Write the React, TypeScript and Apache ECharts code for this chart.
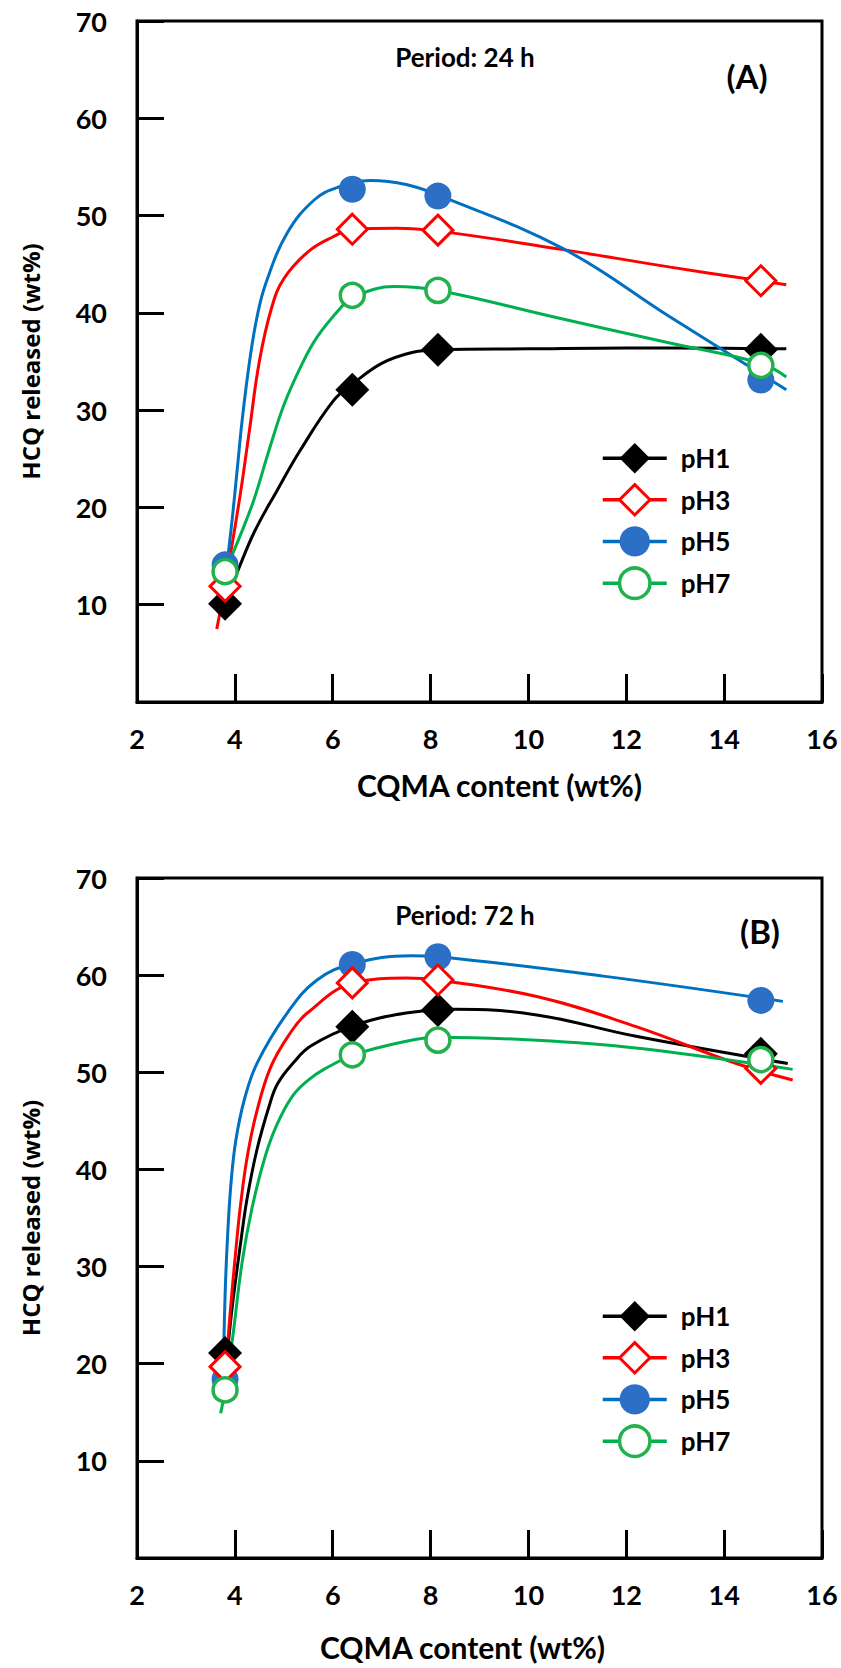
import React, { useEffect, useRef } from 'react';
import * as echarts from 'echarts';

// ---------- data ----------
const seriesNames = ['pH1', 'pH3', 'pH5', 'pH7'];
const cqmaContent = [3.8, 6.4, 8.15, 14.75];
const periodLabels = ['Period: 24 h', 'Period: 72 h'];
const panelLabels = ['(A)', '(B)'];
const xAxisTitle = 'CQMA content (wt%)';
const yAxisTitle = 'HCQ released (wt%)';

// Panel A: 24 h
const ph1_24h = [10.1, 32.1, 36.2, 36.2];
const ph3_24h = [11.9, 48.6, 48.5, 43.3];
const ph5_24h = [14.1, 52.7, 52.0, 33.1];
const ph7_24h = [13.4, 41.8, 42.3, 34.6];

// Panel B: 72 h
const ph1_72h = [21.1, 54.7, 56.4, 51.9];
const ph3_72h = [19.7, 59.2, 59.5, 50.4];
const ph5_72h = [18.4, 61.1, 61.9, 57.4];
const ph7_72h = [17.3, 51.8, 53.3, 51.3];

// Fitted trend curves [x, y]
const fit_ph1_24h = [[3.85, 11.0], [4.02, 13.0], [4.4, 17.5], [4.87, 21.8], [5.34, 25.9], [6.02, 31.0], [6.41, 32.7], [7.0, 34.8], [7.6, 35.9], [8.16, 36.2], [10.0, 36.3], [12.0, 36.4], [14.0, 36.35], [15.27, 36.3]];
const fit_ph3_24h = [[3.63, 7.5], [3.8, 12.0], [4.1, 21.0], [4.3, 28.0], [4.5, 35.0], [4.75, 40.5], [5.0, 43.5], [5.5, 46.3], [6.0, 47.8], [6.41, 48.6], [7.3, 48.7], [8.16, 48.4], [10.71, 46.5], [12.9, 44.7], [15.27, 42.9]];
const fit_ph5_24h = [[3.85, 14.6], [3.95, 19.0], [4.05, 24.0], [4.15, 29.0], [4.3, 35.0], [4.45, 39.5], [4.63, 43.0], [5.07, 48.2], [5.62, 51.6], [6.1, 52.9], [6.77, 53.6], [7.5, 53.2], [8.16, 52.1], [10.71, 46.6], [12.89, 39.6], [15.27, 32.1]];
const fit_ph7_24h = [[3.8, 13.4], [4.1, 17.0], [4.39, 20.8], [4.7, 25.9], [5.0, 30.5], [5.35, 34.5], [5.68, 37.5], [6.16, 40.5], [6.41, 41.6], [7.25, 42.7], [8.16, 42.3], [10.5, 39.6], [12.89, 36.9], [14.76, 34.8], [15.27, 33.4]];

const fit_ph1_72h = [[3.85, 21.2], [3.95, 26.0], [4.12, 32.5], [4.25, 37.0], [4.45, 42.0], [4.7, 46.5], [4.87, 48.8], [5.2, 51.0], [5.55, 52.7], [6.43, 54.8], [7.5, 56.1], [8.5, 56.5], [10.17, 55.9], [12.2, 53.7], [15.3, 50.9]];
const fit_ph3_72h = [[3.82, 19.7], [3.9, 25.0], [4.02, 31.7], [4.12, 36.5], [4.26, 41.5], [4.45, 46.0], [4.73, 50.5], [5.1, 53.8], [5.48, 56.1], [6.43, 59.2], [7.5, 59.7], [8.13, 59.5], [10.17, 57.8], [12.2, 54.7], [14.25, 50.9], [15.4, 49.2]];
const fit_ph5_72h = [[3.76, 18.5], [3.8, 27.0], [3.85, 33.0], [3.92, 38.5], [4.02, 43.0], [4.2, 47.3], [4.46, 51.0], [5.07, 56.1], [5.68, 59.5], [6.43, 61.2], [7.59, 62.0], [8.13, 61.9], [11.53, 59.9], [15.2, 57.3]];
const fit_ph7_72h = [[3.71, 14.9], [3.8, 17.3], [3.95, 22.5], [4.15, 30.5], [4.35, 36.0], [4.6, 41.0], [4.85, 44.5], [5.17, 47.5], [5.5, 49.2], [5.82, 50.3], [6.43, 51.8], [7.5, 53.2], [8.13, 53.6], [10.17, 53.3], [12.2, 52.5], [15.4, 50.3]];

const panels = [
  { values: [ph1_24h, ph3_24h, ph5_24h, ph7_24h], fits: [fit_ph1_24h, fit_ph3_24h, fit_ph5_24h, fit_ph7_24h] },
  { values: [ph1_72h, ph3_72h, ph5_72h, ph7_72h], fits: [fit_ph1_72h, fit_ph3_72h, fit_ph5_72h, fit_ph7_72h] },
];

// ---------- styles ----------
const LOOKS = [
  { symbol: 'diamond', size: 34, fill: '#000000', border: '#000000', bw: 0, line: '#000000' },
  { symbol: 'diamond', size: 30, fill: '#ffffff', border: '#ff0000', bw: 3, line: '#ff0000' },
  { symbol: 'circle', size: 27, fill: '#2b6fc7', border: '#2b6fc7', bw: 0, line: '#0070c0' },
  { symbol: 'circle', size: 24, fill: '#ffffff', border: '#22b14c', bw: 3.5, line: '#00b050' },
];
const MARKER_ORDER = [0, 2, 1, 3];

const GRIDS = [
  { left: 137, top: 21, width: 685, height: 681 },
  { left: 137, top: 878, width: 685, height: 680 },
];

const TICK_FONT = { fontFamily: 'Lato', fontWeight: 'bold' as const, fontSize: 27, color: '#000' };

function textEl(x: number, y: number, text: string, size: number) {
  return {
    type: 'text',
    x,
    y,
    style: {
      text,
      align: 'center',
      verticalAlign: 'middle',
      textAlign: 'center',
      textVerticalAlign: 'middle',
      fontFamily: 'Lato',
      fontWeight: 'bold',
      fontSize: size,
      fill: '#000',
    },
  };
}

function buildOption() {
  const series: any[] = [];
  panels.forEach((p, pi) => {
    p.fits.forEach((fit, si) => {
      series.push({
        type: 'line',
        name: seriesNames[si] + ' fit ' + pi,
        xAxisIndex: pi,
        yAxisIndex: pi,
        data: fit,
        smooth: 0.4,
        symbol: 'none',
        showSymbol: false,
        silent: true,
        z: 2,
        lineStyle: { color: LOOKS[si].line, width: 3 },
        itemStyle: { color: LOOKS[si].line },
      });
    });
  });
  panels.forEach((p, pi) => {
    MARKER_ORDER.forEach((si) => {
      const lk = LOOKS[si];
      series.push({
        type: 'line',
        name: seriesNames[si],
        xAxisIndex: pi,
        yAxisIndex: pi,
        data: cqmaContent.map((x, k) => [x, p.values[si][k]]),
        symbol: lk.symbol,
        symbolSize: lk.size,
        showSymbol: true,
        showAllSymbol: true,
        z: 3,
        lineStyle: { width: 0, color: lk.line, opacity: 0 },
        itemStyle: { color: lk.fill, borderColor: lk.border, borderWidth: lk.bw, opacity: 1 },
        emphasis: { disabled: true },
      });
    });
  });

  const legendData = seriesNames.map((n, si) => ({
    name: n,
    itemStyle: { color: LOOKS[si].fill, borderColor: LOOKS[si].border, borderWidth: LOOKS[si].bw, opacity: 1 },
    lineStyle: { color: LOOKS[si].line, width: 3.5, opacity: 1, type: 'solid' },
  }));

  return {
    animation: false,
    backgroundColor: '#ffffff',
    grid: GRIDS.map((g) => ({ ...g, show: true, borderColor: '#000', borderWidth: 3, backgroundColor: 'transparent' })),
    xAxis: [0, 1].map((i) => ({
      type: 'value',
      gridIndex: i,
      min: 2,
      max: 16,
      interval: 2,
      name: xAxisTitle,
      nameLocation: 'middle',
      nameGap: i ? 74 : 68,
      nameTextStyle: { fontFamily: 'Lato', fontWeight: 'bold', fontSize: 30, color: '#000', padding: i ? [0, 34, 0, 0] : [0, 0, 0, 40] },
      axisLine: { lineStyle: { color: '#000', width: 3 } },
      axisTick: { inside: true, length: 28, lineStyle: { color: '#000', width: 3 } },
      axisLabel: { ...TICK_FONT, margin: 23 },
      splitLine: { show: false },
    })),
    yAxis: [0, 1].map((i) => ({
      type: 'value',
      gridIndex: i,
      min: 0,
      max: 70,
      interval: 10,
      name: yAxisTitle,
      nameLocation: 'middle',
      nameGap: 95,
      nameTextStyle: { fontFamily: 'Open Sans', fontWeight: 'bold', fontSize: 24, color: '#000' },
      axisLine: { lineStyle: { color: '#000', width: 3 } },
      axisTick: { inside: true, length: 27, lineStyle: { color: '#000', width: 3 } },
      axisLabel: { ...TICK_FONT, margin: 30, formatter: (v: number) => (v === 0 ? '' : String(v)) },
      splitLine: { show: false },
    })),
    legend: [0, 1].map((i) => ({
      orient: 'vertical',
      left: 596,
      top: i ? 1296 : 438,
      padding: 5,
      itemWidth: 64,
      itemHeight: 38,
      itemGap: 9.7,
      selectedMode: false,
      textStyle: { fontFamily: 'Lato', fontWeight: 'bold', fontSize: 26, color: '#000', padding: [0, 0, 0, 9] },
      data: legendData,
    })),
    graphic: [
      textEl(465, 57, periodLabels[0], 26),
      textEl(747, 76, panelLabels[0], 33),
      textEl(465, 915, periodLabels[1], 26),
      textEl(760, 931, panelLabels[1], 33),
    ],
    series,
  };
}

export default function App() {
  const ref = useRef<HTMLDivElement>(null);
  useEffect(() => {
    document.body.style.margin = '0';
    if (!ref.current) return;
    const chart = echarts.init(ref.current, undefined, { renderer: 'svg' });
    chart.setOption(buildOption() as any);
    return () => chart.dispose();
  }, []);
  return <div ref={ref} style={{ width: 841, height: 1668 }} />;
}
